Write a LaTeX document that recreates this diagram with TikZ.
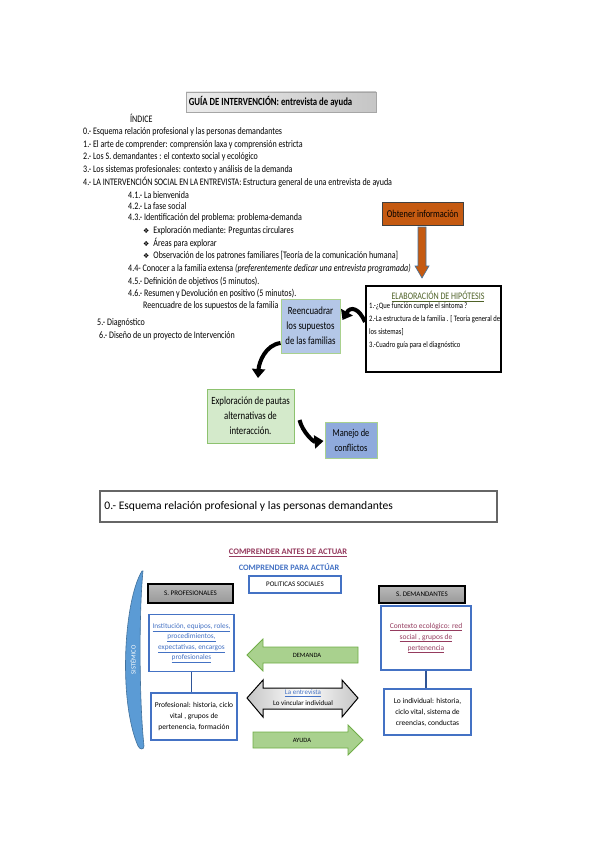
\documentclass[tikz,border=0pt]{standalone}
\usepackage{fontspec}
\setmainfont{Carlito}[FakeStretch=0.8]
\newfontfamily\lowfont{Carlito}
\newfontfamily\symfont{DejaVu Sans}
\usetikzlibrary{arrows.meta}
\definecolor{orangefill}{HTML}{C55A11}
\definecolor{olive}{HTML}{4F6228}
\definecolor{mauve}{HTML}{953B5E}
\definecolor{bluetext}{HTML}{4472C4}
\definecolor{blueline}{HTML}{4472C4}
\definecolor{darkblue}{HTML}{2F5597}
\definecolor{greenfill}{HTML}{A9D18E}
\definecolor{greenline}{HTML}{70AD47}
\definecolor{palegreen}{HTML}{D4EACB}
\definecolor{boxgreen}{HTML}{8DC26F}
\definecolor{lightblue}{HTML}{B4C7E7}
\definecolor{midblue}{HTML}{8FAADC}
\definecolor{sysblue}{HTML}{5B9BD5}
\definecolor{sysline}{HTML}{41719C}
\tikzset{
  idx/.style={anchor=west,inner sep=0pt,font=\fontsize{10}{12}\selectfont},
  boxbase/.style={inner sep=2pt,align=center},
  curvarrow/.style={draw=black,line width=4pt,-{Triangle[length=9pt,width=13pt]}},
  bluebox/.style={boxbase,draw=blueline,line width=1.2pt,fill=white,font=\lowfont\fontsize{7.5}{11}\selectfont},
  graybox/.style={boxbase,draw=black,line width=1.2pt,top color=gray!55,bottom color=gray!80,font=\lowfont\fontsize{7}{8}\selectfont},
  greenarrow/.style={fill=greenfill,draw=greenline,line width=0.8pt},
  conn/.style={draw=darkblue,line width=1.6pt},
  lowtext/.style={inner sep=0pt,font=\lowfont\fontsize{6.5}{8}\selectfont},
}
\begin{document}
\begin{tikzpicture}[x=1pt,y=-1pt]
\path[use as bounding box,fill=white] (0,0) rectangle (599,848);

% ---------- title ----------
\node[draw=gray!70,line width=0.6pt,left color=gray!15,right color=gray!45,
      minimum width=190pt,minimum height=20pt,inner sep=0pt] (title) at (281,102) {};
\node[anchor=west,inner sep=0pt,font=\fontsize{10.9}{12}\selectfont\bfseries] (titlet) at ([xshift=3pt]title.west) {GUÍA DE INTERVENCIÓN: entrevista de ayuda};
\node[idx,font=\fontsize{10}{12}\selectfont] (indice) at (130,118) {ÍNDICE};

% ---------- index ----------
\node[idx] (i0) at (83,132) {0.- Esquema relación profesional y las personas demandantes};
\node[idx] (i1) at (83,145) {1.- El arte de comprender: comprensión laxa y comprensión estricta};
\node[idx] (i2) at (83,157) {2.- Los S. demandantes : el contexto social y ecológico};
\node[idx] (i3) at (83,170) {3.- Los sistemas profesionales: contexto y análisis de la demanda};
\node[idx] (i4) at (83,182) {4.- LA INTERVENCIÓN SOCIAL EN LA ENTREVISTA: Estructura general de una entrevista de ayuda};
\node[idx] (i41) at (128,195) {4.1.- La bienvenida};
\node[idx] (i42) at (128,206) {4.2.- La fase social};
\node[idx] (i43) at (128,218) {4.3.- Identificación del problema: problema-demanda};
\node[idx] (b1) at (143,231) {{\symfont\fontsize{7}{9}\selectfont ❖}\hspace{4pt}Exploración mediante: Preguntas circulares};
\node[idx] (b2) at (143,243) {{\symfont\fontsize{7}{9}\selectfont ❖}\hspace{4pt}Áreas para explorar};
\node[idx] (b3) at (143,256) {{\symfont\fontsize{7}{9}\selectfont ❖}\hspace{4pt}Observación de los patrones familiares [Teoría de la comunicación humana]};
\node[idx] (i44) at (128,269) {4.4- Conocer a la familia extensa \textit{(preferentemente dedicar una entrevista programada)}};
\node[idx] (i45) at (128,282) {4.5.- Definición de objetivos (5 minutos).};
\node[idx] (i46) at (128,294) {4.6.- Resumen y Devolución en positivo (5 minutos).};
\node[idx] (i47) at (143,306) {Reencuadre de los supuestos de la familia};
\node[idx] (i5) at (97,323) {5.- Diagnóstico};
\node[idx] (i6) at (99,336) {6.- Diseño de un proyecto de Intervención};

% ---------- right flow ----------
\node[boxbase,draw=black!75,line width=1pt,fill=orangefill,minimum width=81pt,minimum height=23pt,
      font=\fontsize{10.5}{12}\selectfont] (obt) at (422.5,213.5) {Obtener información};
\fill[orangefill,draw=sysline,line width=0.6pt]
  (418,227) -- (426,227) -- (426,266) -- (429,266) -- (422,278) -- (415,266) -- (418,266) -- cycle;

\node[draw=black,line width=2pt,fill=white,minimum width=135pt,minimum height=86pt,inner sep=0pt] (elab) at (433.5,329) {};
\node[anchor=north,inner sep=0pt,text=olive,font=\fontsize{10}{12}\selectfont] (elabt) at (438,291) {\underline{ELABORACIÓN DE HIPÓTESIS}};
\node[anchor=north west,inner sep=0pt,align=left,font=\fontsize{8.3}{13}\selectfont] (elabx) at (369,303)
  {1.-¿Que función cumple el síntoma ?\\2.-La estructura de la familia . [ Teoría general de\\los sistemas]\\3.-Cuadro guía para el diagnóstico};

\node[boxbase,draw=greenfill,line width=1pt,fill=lightblue,minimum width=59pt,minimum height=54pt,
      font=\fontsize{11}{15}\selectfont] (reen) at (310.5,326) {Reencuadrar\\los supuestos\\de las familias};
\node[boxbase,draw=boxgreen,line width=1pt,fill=palegreen,minimum width=87pt,minimum height=54pt,
      font=\fontsize{11}{15}\selectfont] (explor) at (250.5,416) {Exploración de pautas\\alternativas de\\interacción.};
\node[boxbase,draw=greenfill,line width=1pt,fill=midblue,minimum width=52pt,minimum height=36pt,
      font=\fontsize{10.5}{15}\selectfont] (manejo) at (351,440) {Manejo de\\conflictos};

\draw[curvarrow] ([yshift=7pt]elab.west) .. controls +(-6,-14) and +(8,-14) .. ([xshift=2pt,yshift=6pt]reen.east);
\draw[curvarrow] ([yshift=-17pt]reen.west) .. controls +(-15,2) and +(1,-16) .. (258,378);
\draw[curvarrow] ([xshift=5pt,yshift=-4pt]explor.east) .. controls +(3,12) and +(-10,1) .. ([xshift=-1pt,yshift=-1pt]manejo.west);

% ---------- lower section ----------
\node[draw=gray!80!black,line width=1.5pt,fill=white,minimum width=397pt,minimum height=31pt,inner sep=0pt] (sec0) at (298.5,506.5) {};
\node[anchor=west,inner sep=0pt,font=\lowfont\fontsize{11.6}{14}\selectfont] (sec0t) at ([xshift=5pt]sec0.west)
  {0.- Esquema relación profesional y las personas demandantes};

\node[inner sep=0pt,text=mauve,font=\lowfont\fontsize{8.5}{10}\selectfont\bfseries] (cant) at (288,553) {\underline{COMPRENDER ANTES DE ACTUAR}};
\node[inner sep=0pt,text=bluetext,font=\lowfont\fontsize{8.3}{10}\selectfont\bfseries] (cpara) at (289,567) {COMPRENDER PARA ACTÚAR};
\node[bluebox,minimum width=92pt,minimum height=17pt,font=\lowfont\fontsize{7}{8}\selectfont] (pol) at (295,584.5) {POLITICAS SOCIALES};

% sistemico brace
\fill[sysblue,draw=sysline,line width=0.6pt]
  (142,571) .. controls (124,600) and (118,700) .. (138,746)
  .. controls (140,750) and (144,750) .. (144,746)
  .. controls (139,700) and (139,610) .. (143,571) -- cycle;
\node[rotate=90,text=white,lowtext] (sist) at (133,660) {SISTÉMICO};

\node[graybox,minimum width=85pt,minimum height=19pt] (sprof) at (190.5,593.5) {S. PROFESIONALES};
\node[graybox,minimum width=86pt,minimum height=17pt] (sdem) at (422,594.5) {S. DEMANDANTES};

\node[bluebox,minimum width=85pt,minimum height=57pt,text=bluetext,font=\lowfont\fontsize{7.3}{10.3}\selectfont] (ulbox) at (191.5,643)
  {\underline{Institución, equipos, roles,}\\\underline{procedimientos,}\\\underline{expectativas, encargos}\\\underline{profesionales}};
\node[bluebox,minimum width=86pt,minimum height=47pt] (llbox) at (194,716.5)
  {Profesional: historia, ciclo\\vital , grupos de\\pertenencia, formación};
\node[bluebox,minimum width=90pt,minimum height=64pt,text=mauve] (urbox) at (426,638)
  {\underline{Contexto ecológico: red}\\\underline{social , grupos de}\\\underline{pertenencia}};
\node[bluebox,minimum width=87pt,minimum height=46pt] (lrbox) at (427.5,712)
  {Lo individual: historia,\\ciclo vital, sistema de\\creencias, conductas};

\draw[conn] (ulbox.south) -- (ulbox.south |- llbox.north);
\draw[conn] (urbox.south) -- (urbox.south |- lrbox.north);

% DEMANDA arrow
\path[greenarrow] (247,655) -- (263,639) -- (263,647) -- (358,647) -- (358,663) -- (263,663) -- (263,671) -- cycle;
\node[lowtext] (dem) at (307,655) {DEMANDA};

% double arrow
\path[draw=black,line width=1pt,left color=gray!45,right color=gray!45,middle color=white]
  (247,698) -- (263,680) -- (263,688) -- (342,688) -- (342,680) -- (358,698) -- (342,717)
  -- (342,709) -- (263,709) -- (263,717) -- cycle;
\node[lowtext,text=bluetext,font=\lowfont\fontsize{7}{8}\selectfont] (entre) at (303,693) {\underline{La entrevista}};
\node[lowtext,font=\lowfont\fontsize{7}{8}\selectfont] (vinc) at (303,703.5) {Lo vincular individual};

% AYUDA arrow
\path[greenarrow] (253,732) -- (348,732) -- (348,725) -- (363,740) -- (348,755) -- (348,748) -- (253,748) -- cycle;
\node[lowtext] (ayu) at (302,740) {AYUDA};
\end{tikzpicture}
\end{document}
